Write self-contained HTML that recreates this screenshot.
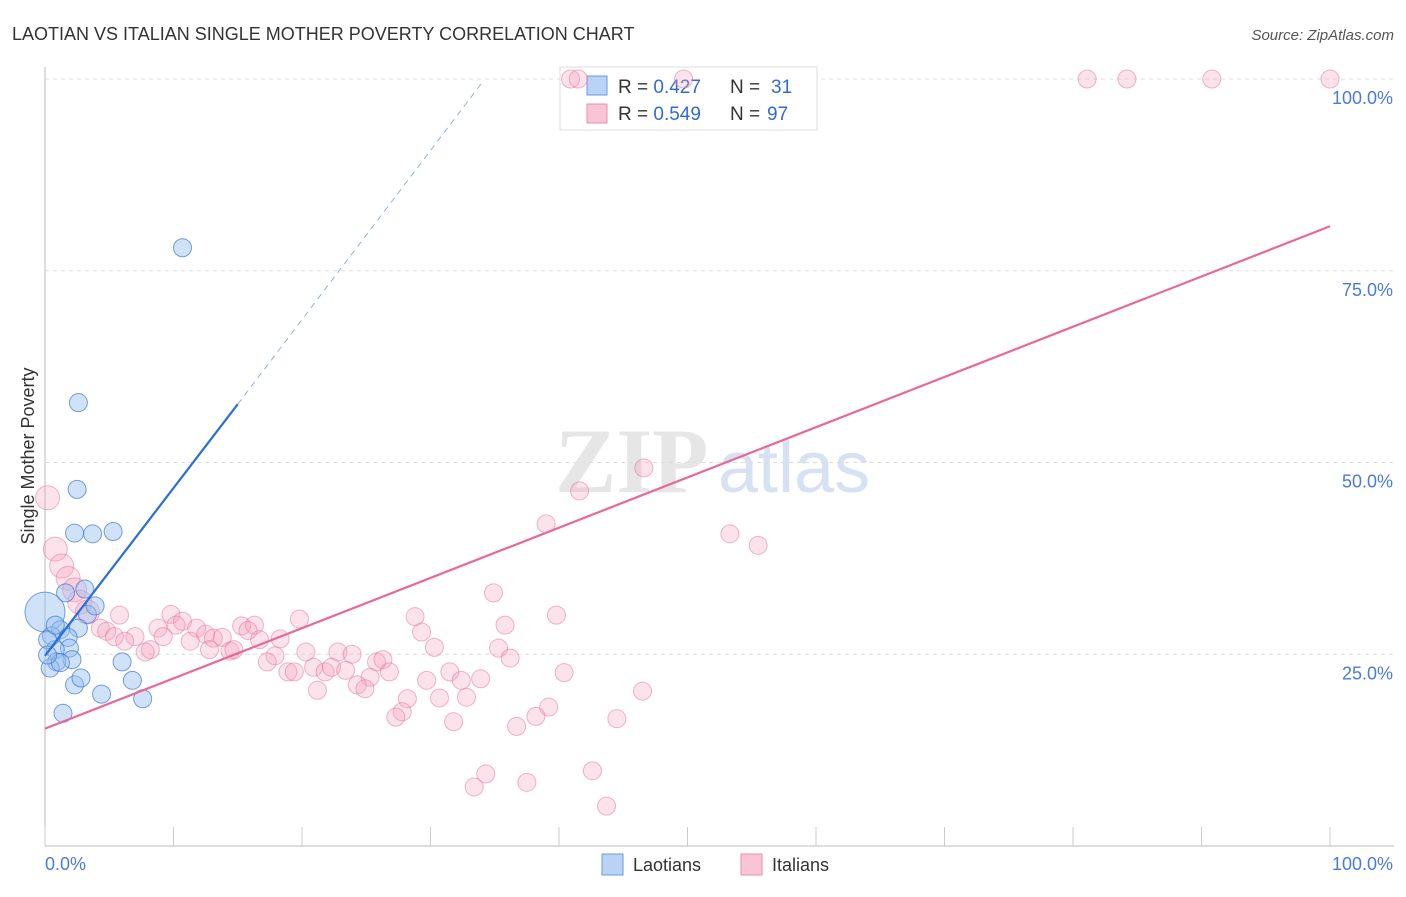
<!DOCTYPE html>
<html><head><meta charset="utf-8"><style>
body{margin:0;background:#fff;font-family:"Liberation Sans",sans-serif}
</style></head><body>
<svg id="chart" width="1406" height="892" xmlns="http://www.w3.org/2000/svg" style="font-family:'Liberation Sans',sans-serif">
<text x="12" y="40" font-size="18" fill="#333">LAOTIAN VS ITALIAN SINGLE MOTHER POVERTY CORRELATION CHART</text>
<text x="1394" y="40" font-size="15" fill="#555" text-anchor="end" font-style="italic">Source: ZipAtlas.com</text>
<text x="555" y="492" font-size="92" fill="#e6e6e6" font-family="Liberation Serif" font-weight="bold">ZIP</text>
<text x="718" y="492" font-size="72" fill="#d6e2f3">atlas</text>
<text transform="translate(34,456) rotate(-90)" font-size="18" fill="#333" text-anchor="middle">Single Mother Poverty</text>
<g id="grid"></g>
<g>
<rect x="560" y="67" width="257" height="63" fill="#fff" stroke="#ddd"/>
<rect x="587" y="76" width="20" height="19" fill="#b8d3f5" stroke="#6a9be0"/>
<rect x="587" y="104" width="20" height="19" fill="#f9c4d5" stroke="#ea8eac"/>
<text x="618" y="93" font-size="19" fill="#333">R = <tspan fill="#2f6bd6">0.427</tspan></text>
<text x="730" y="93" font-size="19" fill="#333">N =</text>
<text x="771" y="93" font-size="19" fill="#2f6bd6">31</text>
<text x="618" y="120" font-size="19" fill="#333">R = <tspan fill="#2f6bd6">0.549</tspan></text>
<text x="730" y="120" font-size="19" fill="#333">N =</text>
<text x="767" y="120" font-size="19" fill="#2f6bd6">97</text>
</g>
<g id="marks"></g>
<g>
<rect x="602" y="854" width="21" height="21" fill="#b8d3f5" stroke="#6a9be0"/>
<text x="633" y="871" font-size="18" fill="#333">Laotians</text>
<rect x="741" y="854" width="21" height="21" fill="#f9c4d5" stroke="#ea8eac"/>
<text x="772" y="871" font-size="18" fill="#333">Italians</text>
</g>
</svg>
<script>
const yTicks=[25,50,75,100];
const yTickLabels=["25.0%","50.0%","75.0%","100.0%"];
const xTicks=[0,10,20,30,40,50,60,70,80,90,100];
const blueX=[10.7,2.6,2.5,2.3,3.7,5.3,3.1,1.6,0,3.3,1.2,2.6,0.5,1.8,1.9,0.8,2.1,0.9,0.4,1.2,6.0,2.3,2.8,6.8,4.4,7.6,1.4,0.2,3.9,0.8,0.2];
const blueY=[78.0,57.8,46.5,40.8,40.7,41.0,33.5,33.0,30.5,30.2,28.2,28.4,27.4,27.2,25.8,25.6,24.3,24.0,23.2,23.9,24.0,21.0,21.9,21.6,19.8,19.2,17.3,26.9,31.3,28.8,24.9];
const blueR=[9,9,9,9,9,9,9,9,20,9,9,9,9,9,9,9,9,9,9,9,9,9,9,9,9,9,9,9,9,9,9];
const pinkX=[40.9,41.5,49.7,81.1,84.2,90.8,100,0.2,46.6,41.6,39.0,53.3,55.5,0.8,1.3,1.8,2.3,2.7,3.3,5.8,34.9,28.8,19.8,39.8,9.8,10.7,10.2,8.8,4.3,4.8,11.8,15.3,16.3,15.8,35.8,29.3,5.4,7.0,6.2,9.2,12.5,13.1,13.8,11.3,16.7,18.3,30.3,35.3,8.2,7.8,12.8,14.4,14.7,20.3,22.8,23.9,36.2,17.9,17.3,25.8,26.3,18.9,19.4,20.9,21.8,22.3,23.4,26.8,31.5,40.4,25.3,29.7,32.4,33.9,21.2,24.3,24.9,46.5,28.2,30.7,32.8,27.8,27.3,39.2,38.2,44.5,31.8,36.7,34.3,42.6,33.4,37.5,43.7];
const pinkY=[100,100,100,100,100,100,100,45.4,49.3,46.3,42.0,40.7,39.2,38.7,36.5,34.9,33.4,31.8,30.5,30.1,33.0,29.9,29.6,30.1,30.2,29.3,28.8,28.4,28.4,28.0,28.4,28.7,28.8,28.1,28.8,27.9,27.3,27.3,26.7,27.3,27.6,27.1,27.2,26.7,26.9,27.0,25.9,25.8,25.6,25.3,25.6,25.4,25.6,25.3,25.3,25.0,24.5,24.8,24.0,24.0,24.3,22.7,22.7,23.3,22.7,23.3,22.9,22.7,22.7,22.6,22.0,21.6,21.6,21.8,20.3,21.0,20.5,20.2,19.2,19.3,19.4,17.5,16.8,18.1,16.9,16.6,16.2,15.6,9.4,9.8,7.7,8.3,5.2];
const blueTrend=[[0,24.8],[15,57.6],[34,99.5]];
const pinkTrend=[[0,15.3],[100,80.8]];
const X0=45,X1=1330,Y0=846,Y100=79;
const sx=v=>X0+(X1-X0)*v/100, sy=v=>Y0-(Y0-Y100)*v/100;
const NS="http://www.w3.org/2000/svg";
function mk(t,a,p){const e=document.createElementNS(NS,t);for(const k in a)e.setAttribute(k,a[k]);p.appendChild(e);return e;}
const grid=document.getElementById('grid'),marks=document.getElementById('marks');
mk('line',{x1:45,y1:67,x2:45,y2:846,stroke:'#bbb'},grid);
mk('line',{x1:45,y1:846,x2:1394,y2:846,stroke:'#bbb'},grid);
yTicks.forEach((t,i)=>{
 const g=mk('line',{x1:45,y1:sy(t),x2:1394,y2:sy(t),stroke:'#ddd','stroke-dasharray':'4,4'},grid);
 
 
 const l=mk('text',{x:1393,y:sy(t)+25,'font-size':18,fill:'#4a7bd8','text-anchor':'end'},grid);
 l.textContent=yTickLabels[i];
 
 
});
xTicks.forEach(t=>{
 const m=mk('line',{x1:sx(t),y1:827,x2:sx(t),y2:846,stroke:'#ccc'},grid);
 
 
});
const xl0=mk('text',{x:45,y:870,'font-size':18,fill:'#4a7bd8'},grid);xl0.textContent='0.0%';


const xl1=mk('text',{x:1393,y:870,'font-size':18,fill:'#4a7bd8','text-anchor':'end'},grid);xl1.textContent='100.0%';


pinkX.forEach((x,i)=>{
 const r=(x<4&&pinkY[i]<50&&pinkY[i]>30)?12:(x<1?11:9);
 const c=mk('circle',{cx:sx(x),cy:sy(pinkY[i]),r:r,fill:'rgba(245,160,188,0.3)',stroke:'rgba(230,110,150,0.5)','stroke-width':1},marks);
 
 
});
blueX.forEach((x,i)=>{
 const c=mk('circle',{cx:sx(x),cy:sy(blueY[i]),r:blueR[i],fill:'rgba(150,190,240,0.45)',stroke:'rgba(60,120,210,0.7)','stroke-width':1},marks);
 
 
});
const pl=mk('line',{x1:sx(pinkTrend[0][0]),y1:sy(pinkTrend[0][1]),x2:sx(pinkTrend[1][0]),y2:sy(pinkTrend[1][1]),stroke:'#e8689a','stroke-width':2.2},marks);


const bl=mk('line',{x1:sx(blueTrend[0][0]),y1:sy(blueTrend[0][1]),x2:sx(blueTrend[1][0]),y2:sy(blueTrend[1][1]),stroke:'#2a6fd8','stroke-width':2.2},marks);


const bd=mk('line',{x1:sx(blueTrend[1][0]),y1:sy(blueTrend[1][1]),x2:sx(blueTrend[2][0]),y2:sy(blueTrend[2][1]),stroke:'#8fb0e0','stroke-width':1,'stroke-dasharray':'6,5'},marks);


</script>
</body></html>
